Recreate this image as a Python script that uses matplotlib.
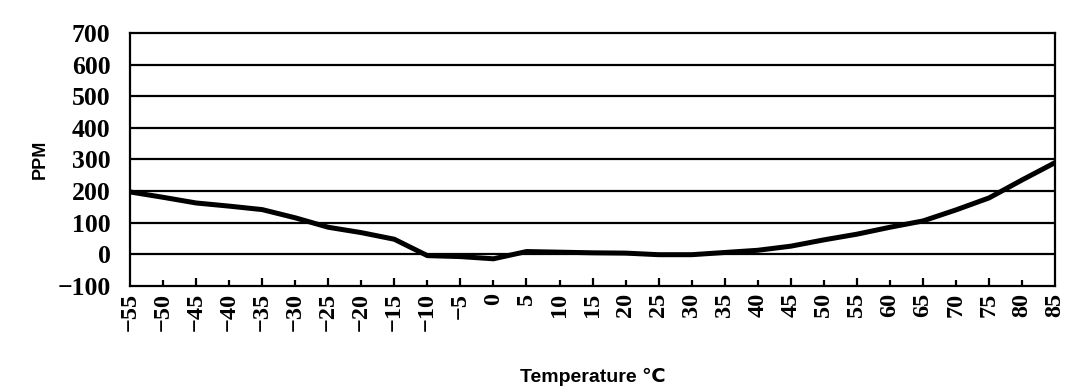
import matplotlib
matplotlib.use("Agg")
import matplotlib.pyplot as plt
import numpy as np

# temperature (C) vs drift (PPM)
temps = [-55, -50, -45, -40, -35, -30, -25, -20, -15, -10, -5, 0, 5, 10, 15,
         20, 25, 30, 35, 40, 45, 50, 55, 60, 65, 70, 75, 80, 85]
ppm = [197, 180, 162, 152, 141, 115, 85, 68, 47, -5, -8, -15, 8, 6, 4,
       3, -2, -2, 5, 12, 25, 45, 63, 85, 105, 140, 178, 235, 290]

y_ticks = list(range(-100, 701, 100))
x_ticks = list(range(-55, 86, 5))

fig = plt.figure(figsize=(10.77, 3.87), dpi=100)
ax = fig.add_axes([0.1207, 0.262, 0.859, 0.652])

for y in y_ticks[1:-1]:
    ax.axhline(y, color="black", lw=1.6, zorder=1)
ax.plot(temps, ppm, color="black", lw=3.6, solid_joinstyle="round", zorder=3)

ax.set_xlim(-55, 85)
ax.set_ylim(-100, 700)
ax.set_yticks(y_ticks)
ax.set_xticks(x_ticks)
ax.set_xticklabels([str(t).replace("-", "\u2212") for t in x_ticks],
                   rotation=90, fontfamily="Liberation Serif",
                   fontweight="bold", fontsize=17.5)
ax.set_yticklabels([str(t).replace("-", "\u2212") for t in y_ticks],
                   fontfamily="Liberation Serif", fontweight="bold",
                   fontsize=18.5)

ax.tick_params(axis="y", length=0, pad=14)
ax.tick_params(axis="x", direction="in", length=6, width=1.6, pad=5)
# alternate short/long ticks as on the original
for i, tl in enumerate(ax.xaxis.get_major_ticks()):
    if i % 2 == 1:
        tl.tick1line.set_markersize(4)
    if i == 0 or i == len(x_ticks) - 1:
        tl.tick1line.set_visible(False)

for s in ax.spines.values():
    s.set_linewidth(1.6)
    s.set_color("black")

ax.set_ylabel("PPM", fontfamily="Liberation Sans", fontweight="bold",
              fontsize=13, labelpad=6)
ax.set_xlabel("Temperature \u2103", fontfamily=["Liberation Sans", "DejaVu Sans"],
              fontweight="bold", fontsize=14, labelpad=27)

fig.savefig("out.png", dpi=100)
